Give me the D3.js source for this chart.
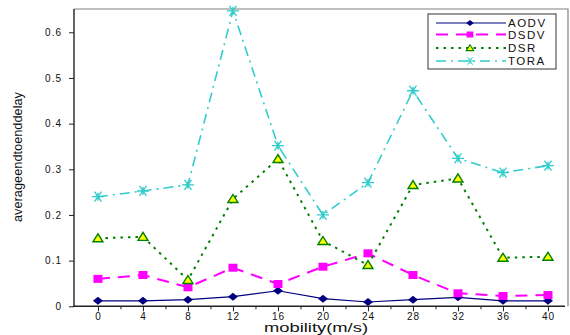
<!DOCTYPE html>
<html>
<head>
<meta charset="utf-8">
<script src="https://cdn.jsdelivr.net/npm/d3@7"></script>
<style>
  body { margin: 0; background: #fff; }
  svg { display: block; font-family: "Liberation Sans", Arial, sans-serif; }
</style>
</head>
<body>
<div id="chart"></div>
<script>
// mobility values (m/s)
var mobility = [0, 4, 8, 12, 16, 20, 24, 28, 32, 36, 40];
var aodv = [0.012, 0.012, 0.0145, 0.021, 0.034, 0.0167, 0.0094, 0.0145, 0.0197, 0.012, 0.012];
var dsdv = [0.060, 0.0685, 0.0416, 0.0845, 0.0488, 0.0867, 0.116, 0.0685, 0.0285, 0.0226, 0.0247];
var dsr  = [0.149, 0.152, 0.0576, 0.235, 0.3225, 0.143, 0.0904, 0.2656, 0.280, 0.1064, 0.1086];
var tora = [0.240, 0.2525, 0.266, 0.647, 0.3517, 0.200, 0.2707, 0.472, 0.324, 0.2926, 0.308];
var yTicks = [0, 0.1, 0.2, 0.3, 0.4, 0.5, 0.6];
var seriesNames = ["AODV", "DSDV", "DSR", "TORA"];

var width = 570, height = 335;
var plotLeft = 74, plotRight = 568, plotTop = 9, plotBottom = 306.3;

var svg = d3.select("#chart").append("svg")
    .attr("width", width)
    .attr("height", height);

var x = d3.scaleLinear().domain([-2.13, 41.78]).range([plotLeft, plotRight]);
var y = d3.scaleLinear().domain([0, 0.651]).range([plotBottom, plotTop]);

// frame (top + right in gray)
svg.append("path")
    .attr("d", "M" + plotLeft + "," + plotTop + "H" + plotRight + "V" + plotBottom)
    .attr("fill", "none")
    .attr("stroke", "#808080")
    .attr("stroke-width", 1.2);

// x axis
var xAxis = svg.append("g")
    .attr("transform", "translate(0," + plotBottom + ")")
    .call(d3.axisBottom(x).tickValues(mobility).tickSize(5).tickPadding(2).tickFormat(d3.format("d")));
// minor ticks
svg.append("g")
    .attr("transform", "translate(0," + plotBottom + ")")
    .call(d3.axisBottom(x).tickValues(d3.range(2, 40, 4)).tickSize(3).tickFormat(""))
    .select(".domain").remove();

// y axis
var yAxis = svg.append("g")
    .attr("transform", "translate(" + plotLeft + ",0)")
    .call(d3.axisLeft(y).tickValues(yTicks).tickSize(5).tickPadding(7)
        .tickFormat(function(d) { return d === 0 ? "0" : d3.format(".1f")(d); }));

svg.selectAll(".domain").attr("stroke", "#222").attr("stroke-width", 1.4);
svg.selectAll(".tick line").attr("stroke", "#222");
svg.selectAll(".tick text")
    .style("font-size", "10px")
    .style("letter-spacing", "1px")
    .attr("fill", "#111");
// make the axis domain lines straight (no outer tick hooks)
xAxis.select(".domain").attr("d", "M" + (plotLeft - 1) + ",0H" + (plotRight - 3));
yAxis.select(".domain").attr("d", "M0," + plotTop + "V" + plotBottom);

// series styles
var styles = {
    AODV: { data: aodv, color: "#000080", width: 1.2, dash: null, marker: "diamond" },
    DSDV: { data: dsdv, color: "#ff00ff", width: 2, dash: "12,8", marker: "square" },
    DSR:  { data: dsr,  color: "#008000", width: 2, dash: "2.5,5", marker: "triangle" },
    TORA: { data: tora, color: "#33cccc", width: 1.6, dash: "10,5,2,5", marker: "star" }
};

var line = d3.line()
    .x(function(d) { return x(d.x); })
    .y(function(d) { return y(d.y); });

function drawMarker(g, type, color) {
    if (type === "diamond") {
        g.append("path").attr("d", "M-5,0L0,-4L5,0L0,4Z").attr("fill", color);
    } else if (type === "square") {
        g.append("rect").attr("x", -4.5).attr("y", -4).attr("width", 9).attr("height", 8).attr("fill", color);
    } else if (type === "triangle") {
        g.append("path").attr("d", "M-5,3.5L0,-4.5L5,3.5Z")
            .attr("fill", "#ffff00").attr("stroke", color).attr("stroke-width", 1.4);
    } else if (type === "star") {
        g.append("path").attr("d", "M-6,0H6M-3.5,-5L3.5,5M3.5,-5L-3.5,5M0,-4V4")
            .attr("stroke", color).attr("stroke-width", 1.3).attr("fill", "none");
    }
}

seriesNames.forEach(function(name) {
    var s = styles[name];
    var pts = mobility.map(function(m, i) { return { x: m, y: s.data[i] }; });
    svg.append("path")
        .datum(pts)
        .attr("d", line)
        .attr("fill", "none")
        .attr("stroke", s.color)
        .attr("stroke-width", s.width)
        .attr("stroke-dasharray", s.dash);
    svg.append("g").selectAll("g")
        .data(pts)
        .enter().append("g")
        .attr("transform", function(d) { return "translate(" + x(d.x) + "," + y(d.y) + ")"; })
        .each(function() { drawMarker(d3.select(this), s.marker, s.color); });
});

// legend
var legend = svg.append("g").attr("transform", "translate(428,14)");
legend.append("rect")
    .attr("width", 128).attr("height", 55)
    .attr("fill", "#fff").attr("stroke", "#333").attr("stroke-width", 1);
var legendY = [9, 20.5, 34, 47];
seriesNames.forEach(function(name, i) {
    var s = styles[name];
    var row = legend.append("g").attr("transform", "translate(0," + legendY[i] + ")");
    row.append("line")
        .attr("x1", 8).attr("x2", 78)
        .attr("stroke", s.color)
        .attr("stroke-width", s.width)
        .attr("stroke-dasharray", s.dash);
    var m = row.append("g").attr("transform", "translate(42,0) scale(0.75)");
    drawMarker(m, s.marker, s.color);
    row.append("text")
        .attr("x", 80).attr("y", 4)
        .style("font-size", "11.5px")
        .style("letter-spacing", "1.5px")
        .attr("fill", "#111")
        .text(name);
});

// axis titles
svg.append("text")
    .attr("x", 316).attr("y", 332)
    .attr("text-anchor", "middle")
    .attr("textLength", 104)
    .attr("lengthAdjust", "spacingAndGlyphs")
    .style("font-size", "13px")
    .attr("fill", "#111")
    .text("mobility(m/s)");

svg.append("text")
    .attr("transform", "translate(22,157) rotate(-90)")
    .attr("text-anchor", "middle")
    .attr("textLength", 130)
    .attr("lengthAdjust", "spacingAndGlyphs")
    .style("font-size", "12px")
    .attr("fill", "#111")
    .text("averageendtoenddelay");
</script>
</body>
</html>
